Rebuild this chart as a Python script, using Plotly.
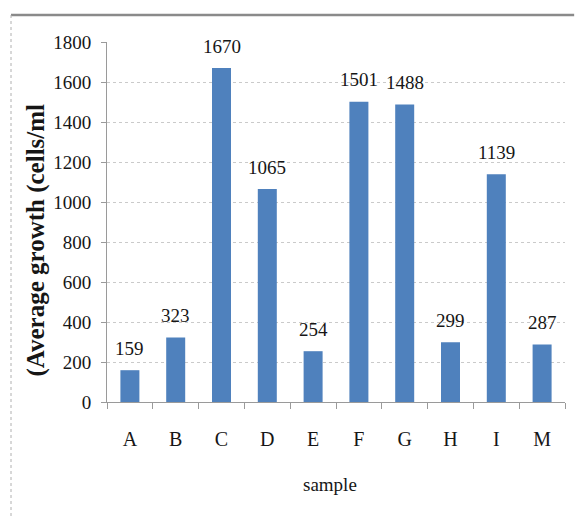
import plotly.graph_objects as go

# Average growth per sample
samples = ["A", "B", "C", "D", "E", "F", "G", "H", "I", "M"]
growth = [159, 323, 1670, 1065, 254, 1501, 1488, 299, 1139, 287]
y_ticks = [0, 200, 400, 600, 800, 1000, 1200, 1400, 1600, 1800]

BAR = "#4F81BD"
GRID = "#cacaca"
AXIS = "#9a9a9a"
SERIF = "Liberation Serif"
INK = "#161616"

fig = go.Figure(
    go.Bar(
        x=samples,
        y=growth,
        marker=dict(color=BAR, line=dict(width=0)),
        hoverinfo="x+y",
    )
)

# value labels above each bar
annotations = [
    dict(
        x=s, y=v, xref="x", yref="y", text=str(v), showarrow=False,
        yshift=22, font=dict(family=SERIF, size=19, color=INK),
    )
    for s, v in zip(samples, growth)
]

annotations += [
    dict(
        text="(Average growth (cells/ml", xref="paper", yref="paper",
        x=-0.156, y=0.45, xanchor="center", yanchor="middle",
        textangle=-90, showarrow=False,
        font=dict(family=SERIF, size=25, color=INK, weight="bold"),
    ),
    dict(
        text="sample", xref="paper", yref="paper",
        x=0.487, y=-0.23, xanchor="center", yanchor="middle",
        showarrow=False,
        font=dict(family=SERIF, size=19, color=INK),
    ),
]

# outer frame: heavy top edge and a thin dotted left edge
shapes = [
    dict(type="line", xref="paper", yref="paper", x0=-0.2096, x1=1.02,
         y0=1.075, y1=1.075, line=dict(color="#8a8a8a", width=2.5)),
    dict(type="line", xref="paper", yref="paper", x0=-0.2096, x1=-0.2096,
         y0=1.075, y1=-0.33, line=dict(color="#b0b0b0", width=1, dash="dot")),
]

fig.update_layout(
    width=577,
    height=518,
    margin=dict(l=107, r=12, t=42, b=116),
    paper_bgcolor="white",
    plot_bgcolor="white",
    bargap=0.585,
    showlegend=False,
    annotations=annotations,
    shapes=shapes,
    font=dict(family=SERIF, color=INK),
    xaxis=dict(
        type="category",
        tickson="boundaries",
        ticks="outside",
        ticklen=6,
        tickcolor=AXIS,
        showline=True,
        linecolor=AXIS,
        linewidth=1,
        showgrid=False,
        ticklabelstandoff=19,
        tickfont=dict(family=SERIF, size=20, color=INK),
    ),
    yaxis=dict(
        range=[0, 1800],
        tickvals=y_ticks,
        ticks="outside",
        ticklen=5,
        tickcolor=AXIS,
        showline=True,
        linecolor=AXIS,
        linewidth=1,
        showgrid=True,
        gridcolor=GRID,
        griddash="dot",
        gridwidth=1,
        zeroline=False,
        ticklabelstandoff=6,
        tickfont=dict(family=SERIF, size=19, color=INK),
    ),
)

fig.write_html("out.html")
